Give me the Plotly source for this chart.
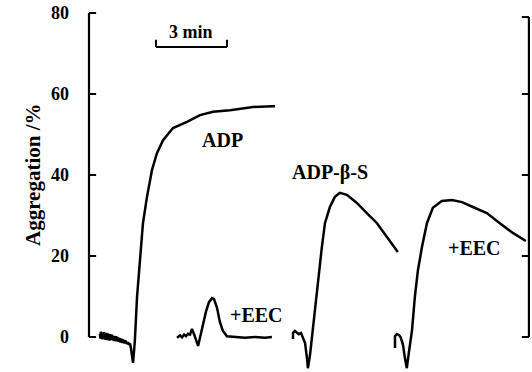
import plotly.graph_objects as go

# ---- data (time in minutes, aggregation in %) ----
adp_t = [0.46, 0.48, 0.50, 0.53, 0.55, 0.57, 0.59, 0.61, 0.63, 0.66, 0.68, 0.70, 0.72, 0.74,
         0.76, 0.78, 0.80, 0.83, 0.85, 0.87, 0.89, 0.91, 0.93, 0.95, 0.97, 1.00, 1.02, 1.04,
         1.06, 1.08, 1.10, 1.12, 1.14, 1.16, 1.18, 1.21, 1.23, 1.25, 1.27, 1.29, 1.31, 1.33,
         1.35, 1.37, 1.39, 1.42, 1.44, 1.46, 1.48, 1.50, 1.52, 1.56, 1.60, 1.65, 1.69, 1.73,
         1.77, 1.82, 1.86, 1.90, 1.94, 2.03, 2.15, 2.28, 2.45, 2.66, 2.87, 3.13, 3.55, 4.14,
         4.69, 5.24, 5.96, 6.93, 7.77, 7.86]
adp_v = [0.7, -0.4, 1.3, -0.2, 1.1, -0.6, 0.9, -0.4, 1.2, -0.3, 0.8, -0.7, 1.0, -0.2,
         0.6, -0.8, 0.9, -0.5, 0.4, -0.9, 0.7, -0.6, 0.5, -0.8, 0.6, -0.7, 0.2, -0.9,
         0.3, -1.0, 0.1, -0.8, 0.2, -1.1, 0.0, -0.9, -0.1, -1.2, -0.2, -1.0, -0.3, -1.4,
         -0.4, -1.2, -0.5, -1.5, -0.6, -1.3, -0.8, -1.6, -0.9, -1.1, -1.7, -1.3, -1.9, -1.6,
         -2.7, -4.7, -6.4, -3.7, -0.7, 9.9, 19.8, 28.1, 34.6, 41.2, 45.4, 48.6, 51.6, 53.1,
         54.8, 55.6, 56.0, 56.8, 57.0, 57.0]

eec1_t = [3.72, 3.85, 3.93, 4.02, 4.10, 4.18, 4.27, 4.35, 4.44, 4.52, 4.61, 4.69, 4.82, 4.94,
          5.07, 5.20, 5.28, 5.41, 5.53, 5.66, 5.83, 6.17, 6.59, 7.01, 7.44, 7.73]
eec1_v = [-0.2, 0.4, -0.1, 0.6, 0.2, 0.8, 0.6, 2.0, 0.7, -0.7, -2.2, -0.2, 3.0, 6.2,
          8.6, 9.6, 9.4, 7.2, 3.7, 1.5, 0.2, 0.0, -0.2, 0.0, -0.2, 0.0]

adps_t = [8.62, 8.62, 8.70, 8.79, 8.87, 8.96, 9.04, 9.13, 9.21, 9.25, 9.34, 9.42, 9.55, 9.67,
          9.84, 9.97, 10.18, 10.39, 10.60, 10.90, 11.32, 11.74, 12.17, 12.59, 13.05]
adps_v = [-0.5, 1.0, 1.5, 1.0, 0.7, 1.0, -0.2, -1.5, -5.2, -7.7, -4.4, 0.0, 5.9, 14.1,
          22.2, 28.1, 32.1, 34.6, 35.6, 35.1, 33.1, 30.6, 28.1, 24.7, 21.0]

eec2_t = [12.93, 12.93, 13.01, 13.10, 13.18, 13.27, 13.35, 13.43, 13.52, 13.65, 13.77, 13.90,
          14.07, 14.28, 14.53, 14.91, 15.34, 15.76, 16.22, 16.81, 17.36, 17.91, 18.46]
eec2_v = [-2.7, 0.2, 0.7, 0.5, -0.2, -2.0, -5.2, -7.7, -3.7, 1.7, 9.9, 16.5,
          22.2, 28.1, 31.9, 33.6, 33.8, 33.3, 32.1, 30.6, 28.1, 25.7, 23.7]

y_ticks = [0, 20, 40, 60, 80]
y_tick_labels = ["0", "20", "40", "60", "80"]

labels = ["ADP", "ADP-β-S", "+EEC", "+EEC"]
label_t = [5.66, 10.18, 7.06, 16.31]
label_v = [48.6, 40.5, 5.4, 22.0]

scale_bar_start = 2.83
scale_bar_len = 3  # minutes
scale_bar_level = 71.6

# ---- layout constants ----
X_RANGE = [-0.169, 18.72]
Y_RANGE = [-8.64, 81.98]
RIGHT_AXIS_X = 18.59
FONT = "Liberation Serif"
LINE = dict(color="black", width=2.5)

fig = go.Figure()
for t, v in [(adp_t, adp_v), (eec1_t, eec1_v), (adps_t, adps_v), (eec2_t, eec2_v)]:
    fig.add_trace(go.Scatter(x=t, y=v, mode="lines", line=LINE, showlegend=False,
                             hoverinfo="skip"))

shapes = []
# axis lines
shapes.append(dict(type="line", xref="x", yref="y", x0=0, x1=0, y0=0, y1=80,
                   line=dict(color="black", width=2.2)))
shapes.append(dict(type="line", xref="x", yref="y", x0=RIGHT_AXIS_X, x1=RIGHT_AXIS_X, y0=0, y1=79,
                   line=dict(color="black", width=2.2)))
tick_len = 0.3
for yv in y_ticks:
    shapes.append(dict(type="line", xref="x", yref="y", x0=0, x1=tick_len, y0=yv, y1=yv,
                       line=dict(color="black", width=2)))
    yr = min(yv, 79)
    shapes.append(dict(type="line", xref="x", yref="y", x0=RIGHT_AXIS_X - tick_len,
                       x1=RIGHT_AXIS_X, y0=yr, y1=yr, line=dict(color="black", width=2)))
# scale bar
sb_end = scale_bar_start + scale_bar_len
shapes.append(dict(type="line", xref="x", yref="y", x0=scale_bar_start, x1=sb_end,
                   y0=scale_bar_level, y1=scale_bar_level, line=dict(color="black", width=2)))
for xe in (scale_bar_start, sb_end):
    shapes.append(dict(type="line", xref="x", yref="y", x0=xe, x1=xe,
                       y0=scale_bar_level, y1=scale_bar_level + 1.8,
                       line=dict(color="black", width=2)))

annotations = []
for txt, t, v in zip(labels, label_t, label_v):
    annotations.append(dict(x=t, y=v, xref="x", yref="y", text=f"<b>{txt}</b>", showarrow=False,
                            font=dict(family=FONT, size=20, color="black"),
                            xanchor="center", yanchor="middle"))
annotations.append(dict(x=scale_bar_start + scale_bar_len / 2, y=75.3, xref="x", yref="y",
                        text="<b>3 min</b>", showarrow=False,
                        font=dict(family=FONT, size=18, color="black"),
                        xanchor="center", yanchor="middle"))
annotations.append(dict(x=0, y=40, xref="paper", yref="y", xshift=-52, text="<b>Aggregation /%</b>",
                        textangle=-90, showarrow=False,
                        font=dict(family=FONT, size=21, color="black"),
                        xanchor="center", yanchor="middle"))

fig.update_layout(
    width=532, height=372,
    margin=dict(l=85, r=0, t=5, b=0),
    paper_bgcolor="white", plot_bgcolor="white",
    xaxis=dict(range=X_RANGE, visible=False, showgrid=False, zeroline=False),
    yaxis=dict(range=Y_RANGE, tickvals=y_ticks, ticktext=[f"<b>{s}</b>" for s in y_tick_labels],
               ticks="", showgrid=False, zeroline=False, showline=False,
               ticklabelstandoff=15, automargin=False,
               tickfont=dict(family=FONT, size=18, color="black")),
    shapes=shapes,
    annotations=annotations,
)

fig.write_html("out.html", config={"displayModeBar": False},
               post_script="document.body.style.margin='0';document.body.style.overflow='hidden';")
